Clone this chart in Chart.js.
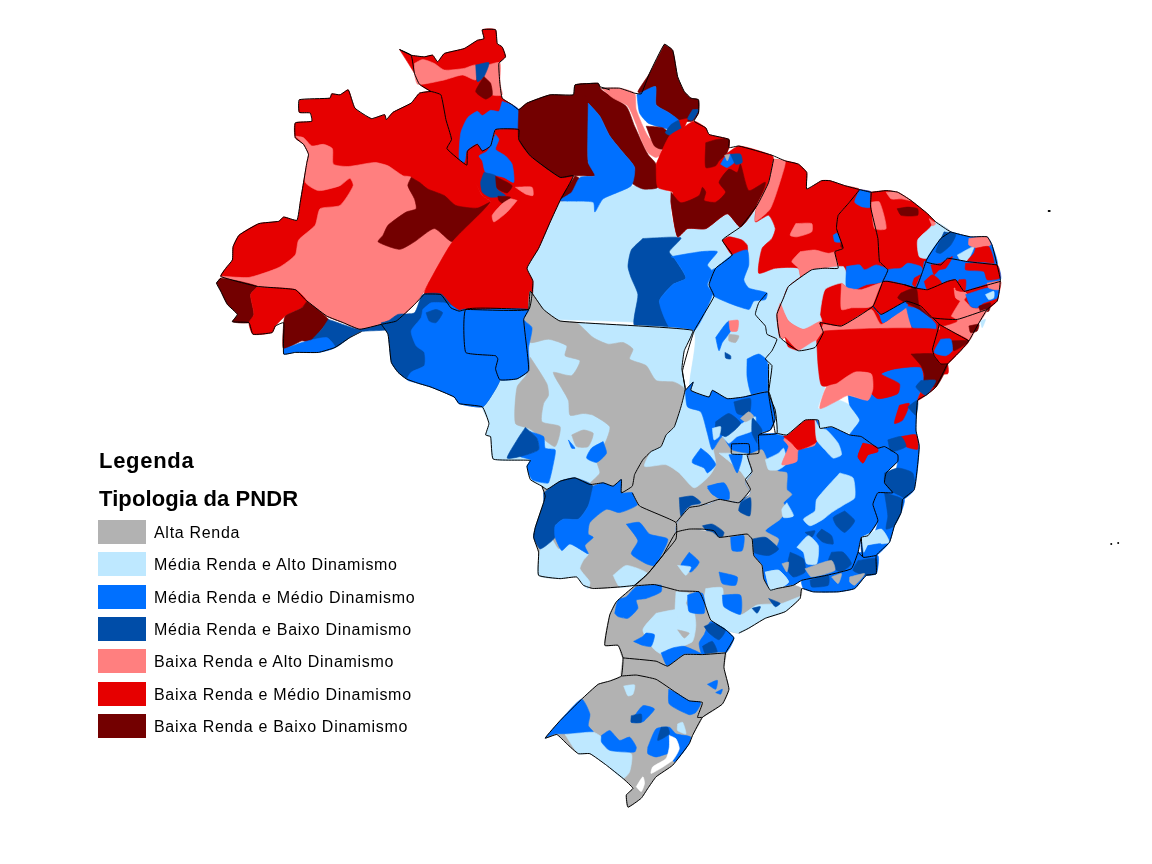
<!DOCTYPE html>
<html lang="pt">
<head>
<meta charset="utf-8">
<title>Tipologia da PNDR</title>
<script src="https://cdn.jsdelivr.net/npm/chart.js@4"></script>
<style>
html,body{margin:0;padding:0;background:#fff;}
#wrap{position:relative;width:1152px;height:864px;overflow:hidden;font-family:"Liberation Sans",Arial,sans-serif;color:#000;}
canvas{position:absolute;left:0;top:0;}
.t{position:absolute;left:99px;font-weight:bold;font-size:22px;line-height:24px;white-space:nowrap;}
.s{position:absolute;left:98px;width:48px;height:24px;}
.l{position:absolute;left:154px;font-size:16px;line-height:24px;letter-spacing:.7px;white-space:nowrap;}
</style>
</head>
<body>
<div id="wrap"><canvas id="c" width="1152" height="864"></canvas></div>
<script>
const categories = ["Alta Renda","Média Renda e Alto Dinamismo","Média Renda e Médio Dinamismo","Média Renda e Baixo Dinamismo","Baixa Renda e Alto Dinamismo","Baixa Renda e Médio Dinamismo","Baixa Renda e Baixo Dinamismo"];
const colors = ["#B2B2B2","#BEE8FF","#0070FF","#004DA8","#FF7F7F","#E60000","#730000"];
const legendTitles = ["Legenda","Tipologia da PNDR"];
const [GRAY,LIGHT,BLUE,NAVY,PINK,RED,DARK] = [0,1,2,3,4,5,6];
const WHITE = -1;
// map traced in frames: origin of each traced crop, 3 units per picture pixel
const FA=[210,20], FB=[560,30], FC=[380,290], FD=[670,330], FE=[530,560];

const northWest = [FA,[
 [RED,[262,230,355,225,360,212,385,215,410,200,430,255,480,287,520,275,525,290,545,268,600,240,625,210,660,205,690,215,705,290,722,350,708,378,768,428,815,520,840,540,725,660,650,790,635,815,610,850,555,900,510,910,445,925,395,905,345,885,280,835,250,805,135,795,25,765,40,740,60,715,62,675,80,640,140,605,200,598,215,585,255,595,265,540,285,420,290,395,275,365,250,345,250,300,300,295,295,270,262,268]],
 [PINK,[250,340,275,345,300,370,335,365,362,378,365,425,410,432,490,420,530,430,575,460,600,465,620,560,725,660,650,790,635,815,610,850,555,900,510,910,445,925,395,905,345,885,280,835,250,805,135,795,25,765,110,768,200,738,250,700,260,655,310,610,325,560,385,550,425,490,415,468,385,490,320,505,280,480,285,420,290,395,275,365]],
 [DARK,[600,465,590,490,610,530,615,560,585,570,530,610,515,640,500,660,565,683,610,660,670,620,725,660,790,600,840,540,800,558,735,550,700,520,650,500,625,480]],
 [DARK,[12,785,25,770,135,795,115,820,125,880,110,905,60,902,75,880,45,850,25,810]],
 [RED,[135,797,250,805,285,840,270,860,220,885,190,915,180,935,122,940,110,905,125,880,115,820]],
 [DARK,[285,840,350,895,330,925,295,965,270,960,215,985,215,905,220,885,270,860]],
 [NAVY,[350,895,445,925,510,910,530,900,535,925,450,932,415,950,370,980,345,955,295,965,330,925]],
 [BLUE,[215,985,270,965,345,950,370,980,320,995,250,995,215,1000]],
]];
const roraima = [FA,[
 [RED,[565,78,600,95,640,100,665,95,680,115,700,90,760,75,800,50,820,45,815,18,855,18,860,60,875,70,885,100,865,120,868,180,875,225,905,245,925,260,925,320,855,320,840,370,815,385,800,365,770,385,768,428,708,378,722,350,705,290,690,215,660,205,625,183,610,150]],
 [PINK,[610,120,635,108,670,120,700,140,760,135,795,125,795,170,755,155,700,170,620,183,610,150]],
 [PINK,[830,125,868,118,868,180,875,215,845,215,840,180,820,160]],
 [NAVY,[795,125,835,118,820,160,800,175]],
 [DARK,[820,160,840,180,845,215,825,228,795,205]],
 [BLUE,[875,235,905,245,925,260,925,320,855,320,840,370,815,385,800,365,770,385,760,420,745,410,750,330,770,285,800,265,815,278,840,262,865,265]],
]];
const paraWest = [FA,[
 [RED,[855,320,925,320,925,350,960,400,1050,465,1090,460,1050,535,1020,600,985,680,950,740,968,780,955,865,765,865,745,870,720,860,690,820,640,818,650,790,725,660,840,540,815,520,768,430,770,385,800,365,815,385,840,370]],
 [BLUE,[855,335,865,350,855,380,885,400,905,425,910,480,880,465,825,450,815,415,805,400,830,385]],
 [NAVY,[820,450,855,460,860,500,885,520,840,525,815,510,810,480]],
 [DARK,[855,462,905,490,890,512,860,498]],
 [DARK,[862,522,900,525,880,545,865,535]],
 [PINK,[915,495,965,495,968,520,945,515]],
 [PINK,[920,535,890,570,850,600,845,580,875,545,900,530]],
 [DARK,[925,260,950,240,1020,215,1090,215,1095,185,1135,185,1135,420,1160,440,1160,460,1095,460,1050,465,960,400,925,350]],
 [DARK,[1095,460,1050,535,1090,525,1110,470]],
]];
const centralLight = [FB,[
 [LIGHT,[0,505,100,510,105,540,130,500,210,462,300,465,340,490,335,545,358,615,385,590,440,590,505,545,545,585,600,525,590,570,630,550,650,590,640,620,610,650,600,725,650,710,720,710,735,745,690,765,675,800,655,850,665,920,720,960,700,1000,640,1010,630,1100,395,1100,400,898,-90,860,-95,835,-82,750,-100,710,-65,650,-30,570]],
 [NAVY,[250,620,365,618,330,660,345,680,380,740,340,760,300,810,335,895,225,885,235,790,215,740,205,705,215,655]],
 [BLUE,[335,675,425,660,475,660,445,700,460,720,445,760,460,790,405,900,335,895,300,810,340,760,380,740,345,680]],
 [RED,[490,625,510,615,550,625,565,640,565,660,520,670]],
 [BLUE,[470,710,520,670,565,655,570,700,555,745,570,770,625,785,620,805,585,810,570,835,465,795,450,760,460,715]],
 [BLUE,[470,920,495,885,510,870,515,900,490,935,480,960]],
 [PINK,[510,870,538,868,535,900,515,900]],
 [GRAY,[510,910,540,915,530,935,510,930]],
 [NAVY,[498,965,515,975,515,985,500,982]],
 [BLUE,[565,985,600,970,625,990,630,1090,580,1095,565,1040]],
]];
const paraCenter = [FB,[
 [DARK,[50,155,115,150,125,170,200,220,225,280,265,365,290,395,295,465,250,470,215,450,225,405,190,360,150,310,120,250,85,210,80,190,45,190]],
 [PINK,[125,165,180,165,225,180,230,230,265,310,310,360,290,375,265,360,245,320,230,275,205,220,160,195]],
 [BLUE,[85,210,120,250,150,310,190,360,225,405,215,460,130,500,105,540,100,510,0,505,35,480,60,435,105,430,85,390]],
 [DARK,[315,32,340,50,355,130,375,175,395,195,418,200,418,240,400,265,360,262,330,240,290,215,288,160,245,182,235,175,270,120]],
 [BLUE,[232,185,288,160,290,215,330,240,360,265,335,290,310,285,265,270,240,240]],
 [DARK,[260,280,310,285,335,310,310,350,285,340]],
 [NAVY,[335,275,360,262,370,290,340,310,318,300]],
 [RED,[360,262,385,258,370,290]],
 [NAVY,[400,230,418,230,400,262,385,258]],
 [RED,[290,395,330,310,370,285,405,265,440,285,450,305,510,320,510,345,500,365,540,340,640,368,645,380,630,450,595,520,545,585,505,545,440,590,385,590,355,615,335,510,340,480,295,465]],
 [DARK,[440,330,475,320,510,320,505,360,480,385,470,400,440,405]],
 [DARK,[335,480,365,512,420,490,430,465,440,480,435,505,470,510,500,480,480,450,510,410,535,420,545,395,570,475,620,450,595,520,545,585,505,545,440,590,385,590,355,615,335,510]],
 [BLUE,[485,395,500,370,515,365,530,385,505,405]],
 [NAVY,[515,365,545,365,550,390,530,395]],
 [GRAY,[497,368,512,365,505,385]],
]];
const maranhao = [FB,[
 [RED,[645,380,680,385,720,395,745,420,745,470,790,445,815,445,860,460,905,472,870,515,840,550,835,590,855,650,830,660,840,710,800,710,760,715,730,745,720,710,650,710,600,725,610,650,640,620,650,590,630,550,590,570,595,520,630,450]],
 [PINK,[645,380,680,385,670,430,635,530,590,568,595,520,630,450]],
 [PINK,[712,575,760,575,760,600,715,615,695,610]],
 [PINK,[725,660,770,655,810,665,840,660,843,708,800,710,760,715,730,745,720,710,700,690]],
 [BLUE,[825,610,845,600,848,630,830,630]],
 [PINK,[855,600,875,600,870,625,850,630]],
 [DARK,[850,630,865,635,860,650,848,645]],
]];
const piaui = [FB,[
 [RED,[905,472,940,480,938,525,960,620,965,690,990,715,978,750,945,825,850,885,785,875,795,905,770,950,720,960,680,920,665,925,655,850,675,800,690,765,760,715,800,710,843,708,830,660,855,650,835,590,840,550,870,515]],
 [LIGHT,[690,765,760,715,800,710,855,705,865,725,870,770,850,755,800,775,785,850,790,870,735,895,690,870,665,815,675,800]],
 [PINK,[665,815,690,870,735,895,790,870,795,905,770,950,720,960,680,920,665,925,655,850]],
 [BLUE,[905,472,940,480,938,525,915,525,890,510]],
 [BLUE,[865,705,905,700,920,715,955,700,990,715,978,750,925,760,890,775,865,770]],
 [PINK,[850,755,870,770,910,775,975,755,945,825,880,830,850,835]],
]];
const ceara = [FB,[
 [RED,[938,480,985,475,1020,480,1060,505,1110,545,1135,570,1180,600,1150,620,1105,690,1100,700,1095,720,1075,770,1040,760,990,750,975,750,990,715,965,690,960,620,938,525]],
 [PINK,[940,510,965,510,985,590,950,590]],
 [PINK,[985,480,1015,478,1060,505,1030,500,1000,500]],
 [DARK,[1018,530,1050,525,1080,530,1080,550,1030,550]],
 [LIGHT,[1115,590,1135,570,1180,600,1150,620,1110,680,1085,675,1080,625]],
 [PINK,[1115,560,1135,575,1125,582]],
 [BLUE,[975,750,990,715,1030,710,1050,695,1090,705,1095,720,1090,750,1075,770,1040,760,1000,755]],
 [RED,[1070,740,1090,730,1105,745,1090,775,1065,760]],
]];
const potiguar = [FB,[
 [BLUE,[1180,600,1240,615,1290,615,1305,640,1320,700,1230,690,1170,680,1150,700,1105,690,1150,620]],
 [NAVY,[1160,600,1195,608,1180,640,1150,665,1135,660]],
 [LIGHT,[1200,670,1250,645,1220,705]],
 [PINK,[1235,620,1290,615,1300,640,1265,650,1235,640]],
 [RED,[1255,650,1295,645,1310,700,1230,690,1250,665]],
 [BLUE,[1100,690,1150,700,1170,680,1230,690,1320,700,1330,745,1240,775,1220,780,1195,745,1170,750,1110,775,1075,770,1095,720]],
 [RED,[1120,700,1150,695,1185,675,1165,710,1145,715,1130,730]],
 [RED,[1225,695,1320,700,1328,740,1290,745,1280,720,1225,715]],
 [RED,[1100,750,1125,730,1150,750,1155,770,1110,775]],
]];
const pernambuco = [FB,[
 [RED,[945,825,978,750,1040,760,1075,770,1110,775,1170,750,1195,745,1220,780,1240,775,1330,750,1325,790,1320,810,1290,835,1200,865,1125,860,1090,825,1045,810,970,850]],
 [DARK,[1030,785,1075,770,1085,825,1120,860,1085,835,1045,815,1020,800]],
 [PINK,[1190,770,1220,780,1230,790,1215,810,1195,800]],
 [PINK,[1215,800,1245,830,1290,835,1200,865,1180,860]],
 [BLUE,[1225,790,1290,770,1325,770,1320,800,1280,815,1260,830,1240,825]],
 [LIGHT,[1285,790,1310,780,1310,800,1295,805]],
 [DARK,[1265,825,1300,815,1295,840,1270,840]],
 [RED,[1205,745,1225,745,1222,780,1195,775]],
 [PINK,[1290,755,1330,750,1325,775,1295,770]],
 [BLUE,[945,825,970,850,1045,810,1030,835,1000,860,975,875,965,850]],
]];
const bahiaNorth = [FB,[
 [RED,[680,920,720,960,770,950,795,905,785,875,850,885,945,825,970,850,1045,810,1090,825,1125,860,1145,880,1125,955,1130,975,1150,1000,1170,1000,1170,1030,700,1030,690,960]],
 [PINK,[795,880,850,885,940,835,970,880,1045,825,1050,830,1060,915,990,920,960,935,930,925,890,925,855,940,820,925,790,920,775,935]],
 [BLUE,[1045,825,1090,835,1135,880,1130,910,1065,890]],
 [BLUE,[945,825,970,850,1045,810,1050,825,1000,860,975,875,965,850]],
]];
const alagoasSergipe = [FB,[
 [PINK,[1125,860,1200,865,1290,835,1260,885,1235,930,1190,905,1145,880]],
 [RED,[1125,860,1165,850,1200,870,1150,885]],
 [DARK,[1235,885,1265,880,1260,900,1240,905]],
 [LIGHT,[1270,870,1285,865,1275,890]],
 [RED,[1145,880,1190,905,1235,930,1210,960,1170,1000,1150,1000,1130,975,1125,955,1150,925]],
 [DARK,[1180,930,1235,930,1190,960]],
 [BLUE,[1150,925,1180,925,1185,960,1165,975,1130,965]],
]];
const matoGrosso = [FC,[
 [LIGHT,[445,55,450,0,490,55,540,90,940,118,915,180,908,235,918,295,905,350,885,410,860,435,845,470,815,485,790,510,765,555,758,590,725,610,725,570,700,590,670,580,630,585,585,565,540,575,500,600,485,590,450,570,440,530,450,512,338,508,330,440,315,435,325,400,305,350,330,320,358,268,410,265,445,240]],
 [GRAY,[445,60,450,0,490,55,540,90,590,95,640,140,685,160,730,155,760,175,750,205,800,225,830,270,885,275,915,295,905,350,885,410,860,435,845,470,815,485,790,510,765,555,758,610,725,610,630,585,660,550,650,510,680,450,690,410,640,375,610,370,570,375,565,330,525,260,520,245,575,255,600,210,555,195,560,165,505,145,450,155,455,110,430,85]],
 [GRAY,[450,200,500,280,505,315,490,340,485,395,540,410,525,470,480,440,445,415,405,400,410,290,440,250]],
 [GRAY,[575,435,610,420,640,430,625,470,590,470]],
 [BLUE,[450,425,490,440,495,475,525,480,520,520,505,580,490,580,455,570,440,530,450,510,420,500,475,480,470,445]],
 [NAVY,[435,412,470,445,475,480,420,500,380,505,410,450]],
 [BLUE,[670,455,680,490,650,518,620,505,635,475]],
 [BLUE,[565,450,585,475,575,475]],
]];
const rondonia = [FC,[
 [NAVY,[0,95,20,90,50,70,100,65,125,10,180,8,215,45,235,58,255,55,255,185,345,195,352,205,345,235,358,268,330,320,305,350,235,340,220,320,150,290,110,278,75,265,50,245,30,215,20,130,0,100]],
 [BLUE,[125,55,120,80,90,120,105,165,130,185,130,225,90,245,78,268,110,278,150,290,220,320,235,340,305,350,330,320,358,268,345,235,352,205,345,195,255,185,255,55,235,58,215,45,190,35,150,35]],
 [NAVY,[135,65,165,55,185,65,165,95,145,90]],
 [BLUE,[255,55,445,55,430,85,455,110,445,170,445,240,410,265,358,268,345,235,352,205,345,195,255,185]],
]];
const matoGrossoSul = [FC,[
 [GRAY,[485,590,500,600,540,575,585,565,630,585,670,580,700,590,725,570,725,610,760,610,780,650,890,700,890,750,850,800,805,855,765,890,640,900,610,890,590,865,540,870,475,860,475,790,460,745,465,715,490,640,495,620]],
 [LIGHT,[480,780,510,745,535,780,570,765,625,795,610,815,600,840,630,880,625,900,610,890,590,865,540,870,475,860]],
 [NAVY,[490,610,540,575,585,565,640,590,625,650,595,690,550,690,525,710,525,745,480,780,460,745,465,715,490,640]],
 [BLUE,[640,590,670,580,700,590,725,570,725,610,760,610,775,645,720,670,680,660,630,700,625,735,640,745,615,770,625,795,570,765,545,785,525,745,525,710,550,690,595,690,625,650]],
 [BLUE,[740,705,780,700,810,735,865,750,850,790,825,830,800,825,755,795,775,755]],
 [LIGHT,[700,860,740,830,805,855,770,890,720,895]],
 [NAVY,[830,830,855,825,840,860,810,870]],
]];
const goias = [FC,[
 [GRAY,[918,300,942,275,935,300,990,320,1000,300,1045,325,1095,320,1170,305,1190,385,1175,420,1140,435,1140,490,1105,495,1120,545,1100,570,1115,600,1080,640,1020,630,960,650,930,655,890,700,780,650,760,610,758,590,765,555,790,510,815,485,845,470,860,435,885,410,905,350]],
 [LIGHT,[918,300,990,340,985,430,1000,470,1010,525,990,560,945,595,900,550,860,525,795,530,815,485,845,470,860,435,885,410,905,350]],
 [LIGHT,[1020,490,1060,490,1130,490,1105,495,1120,545,1105,570,1085,545,1045,510]],
 [BLUE,[918,300,942,275,935,300,990,320,1000,300,1045,325,1095,320,1170,305,1190,385,1175,420,1140,430,1140,490,1060,480,1030,440,1000,480,985,430,965,365,925,350]],
 [LIGHT,[1030,440,1060,420,1090,400,1130,380,1125,420,1075,440,1050,460]],
 [NAVY,[1010,395,1050,370,1085,400,1040,440,1010,420]],
 [NAVY,[1065,335,1115,325,1110,375,1075,370]],
 [NAVY,[1120,380,1150,420,1140,465,1120,430]],
 [GRAY,[1085,385,1110,365,1125,380,1100,395]],
 [LIGHT,[1000,415,1025,410,1020,440,1005,450]],
 [BLUE,[965,475,990,495,1010,525,985,550,975,535,940,520,940,510]],
 [BLUE,[985,590,1035,580,1050,605,1050,630,1015,625]],
 [NAVY,[900,625,940,620,965,640,925,655,905,680]],
 [NAVY,[1080,640,1110,620,1115,680,1090,670]],
 [BLUE,[1050,495,1090,495,1075,550,1060,520]],
]];
const minasGerais = [FD,[
 [BLUE,[325,310,355,315,410,270,450,270,455,295,490,290,545,315,580,320,630,355,650,350,690,375,690,395,655,430,650,460,675,490,630,490,615,525,630,575,600,620,580,625,570,670,550,720,475,740,400,755,375,770,325,780,305,785,285,750,280,710,255,680,250,630,235,615,150,625,135,605,100,600,20,610,25,580,65,530,120,525,150,510,215,520,245,490,230,460,250,430,240,395,240,375,265,370,270,315]],
 [GRAY,[240,375,280,360,300,400,330,425,355,430,355,480,370,495,345,520,355,540,335,570,290,605,330,630,320,655,295,625,250,630,235,615,150,625,135,605,100,600,20,610,25,580,65,530,120,525,150,510,215,520,245,490,230,460,250,430,240,395]],
 [LIGHT,[355,520,375,560,345,565,340,540]],
 [LIGHT,[290,390,330,370,345,355,355,400,330,420,300,420]],
 [NAVY,[100,590,130,585,165,610,150,640,145,625,125,620]],
 [NAVY,[215,520,245,505,243,560,210,545]],
 [PINK,[345,330,355,315,410,270,440,275,440,345,390,360,385,395,340,405,360,350]],
 [RED,[345,320,400,275,440,265,445,335,390,360,370,340]],
 [LIGHT,[440,270,455,295,475,300,510,340,520,375,495,385,470,360,445,330]],
 [LIGHT,[515,430,555,445,560,505,530,525,490,550,465,570,425,590,405,570,440,545,445,510]],
 [RED,[585,340,625,350,630,365,600,375,585,400,570,380]],
 [NAVY,[530,545,560,575,530,610,505,590,495,565]],
 [NAVY,[460,600,490,620,495,645,465,640,445,620]],
 [NAVY,[410,610,440,605,430,625]],
 [LIGHT,[385,655,420,620,450,650,445,705,415,705,405,670]],
 [NAVY,[365,670,405,690,410,730,375,745,355,720]],
 [NAVY,[490,670,525,670,550,705,515,730,480,700]],
 [GRAY,[410,720,490,695,500,725,430,745]],
 [NAVY,[250,630,290,625,330,660,300,680,255,670]],
 [LIGHT,[290,730,330,725,360,760,325,785,305,785]],
 [GRAY,[340,705,360,700,355,730]],
 [BLUE,[115,475,150,462,180,490,170,512,130,495]],
]];
const bahiaSouth = [FD,[
 [LIGHT,[300,90,335,20,360,50,390,60,445,30,450,110,470,170,450,235,510,210,545,225,575,270,550,310,490,290,455,295,450,270,410,270,355,315,325,310,320,240,300,190]],
 [BLUE,[540,195,600,210,605,190,640,130,680,115,760,110,770,150,750,210,745,300,755,350,740,480,705,510,675,490,690,395,690,375,650,350,630,355,580,320,545,315,555,300,575,270,545,225]],
 [RED,[445,30,470,0,840,0,840,100,805,170,775,195,750,210,770,155,760,110,680,115,640,130,695,160,690,190,630,205,600,175,610,140,560,125,500,165,460,165,450,110]],
 [PINK,[505,160,560,125,610,130,615,175,600,210,540,195,510,210,455,235,475,170]],
 [DARK,[730,70,800,70,840,100,805,170,770,155,770,130,760,105]],
 [NAVY,[760,150,805,150,775,195,745,170]],
 [RED,[695,225,725,220,705,270,680,280]],
 [RED,[700,320,745,315,750,358,715,350]],
 [NAVY,[660,330,700,320,715,350,670,365]],
 [NAVY,[720,230,750,210,745,255]],
 [RED,[585,340,625,350,630,365,600,375,585,400,570,380]],
 [NAVY,[650,430,690,415,735,430,740,475,705,510,675,490,650,460]],
]];
const sudesteCoast = [FD,[
 [BLUE,[675,490,710,510,700,550,680,590,665,640,625,680,585,685,580,625,615,620,630,575,615,525,630,490]],
 [NAVY,[650,490,705,510,700,550,680,590,655,600,660,560]],
 [LIGHT,[580,625,640,600,665,640,640,645,600,650,590,680]],
 [BLUE,[600,650,640,645,625,680,585,685]],
 [BLUE,[570,670,630,680,625,735,595,740,560,780,510,790,435,790,405,780,400,755,475,740,550,720]],
 [NAVY,[570,695,625,690,625,735,590,740,555,725]],
 [GRAY,[545,745,590,735,560,770,545,760]],
 [NAVY,[425,755,480,740,480,770,430,775]],
 [GRAY,[490,745,520,735,510,765]],
]];
const saoPaulo = [FD,[
 [GRAY,[-105,770,-65,735,-20,680,20,610,60,600,130,610,150,625,235,615,250,630,255,680,280,710,285,750,305,785,325,780,375,770,400,780,395,810,350,850,290,870,240,900,210,915,170,905,125,875,105,820,90,790,30,787,-45,768]],
 [LIGHT,[110,780,160,778,165,830,215,860,265,830,340,825,395,805,350,850,290,870,240,900,210,915,170,905,125,875,105,820]],
 [BLUE,[55,800,100,795,108,855,65,850]],
 [BLUE,[150,730,205,745,200,770,160,765]],
 [BLUE,[160,800,215,800,215,858,165,835]],
 [BLUE,[185,625,225,620,220,665,190,665]],
 [BLUE,[60,670,90,700,65,730,35,710]],
 [LIGHT,[25,710,65,715,50,740]],
 [NAVY,[300,810,335,825,320,835]],
 [NAVY,[250,840,275,835,265,855]],
 [LIGHT,[290,730,330,725,360,760,325,780,305,785]],
]];
const south = [FE,[
 [GRAY,[315,82,375,78,450,97,510,100,525,130,545,185,590,215,615,240,590,285,520,290,465,290,415,325,380,310,280,300,265,262,225,262,240,170,260,130]],
 [LIGHT,[380,165,430,155,490,150,500,200,490,250,445,270,400,290,370,270,340,215]],
 [LIGHT,[440,100,480,105,470,135,490,165,440,175]],
 [BLUE,[255,165,265,125,290,115,320,85,395,80,395,100,350,120,320,125,325,150,295,180,265,175]],
 [BLUE,[475,110,510,100,525,130,525,165,480,160]],
 [BLUE,[312,250,340,235,350,225,375,230,365,265,340,262]],
 [BLUE,[395,285,430,270,465,265,520,290,465,290,415,325]],
 [BLUE,[525,230,545,190,590,215,615,240,590,285,520,290,510,255]],
 [NAVY,[525,205,550,195,590,215,570,245,540,225]],
 [NAVY,[520,265,550,250,565,285,530,290]],
 [GRAY,[445,215,480,225,465,240]],
 [GRAY,[280,300,380,310,415,325,465,290,520,290,590,285,585,330,600,395,580,440,520,480,505,480,520,435,480,430,440,405,380,365,320,352,275,355]],
 [BLUE,[535,380,565,368,560,395]],
 [BLUE,[560,405,580,395,575,410]],
 [GRAY,[275,355,320,352,380,365,440,405,480,430,520,435,505,480,520,480,490,535,480,560,430,625,380,660,355,695,335,725,295,752,290,715,310,695,280,665,230,625,180,590,145,590,110,560,80,532,45,543,90,490,155,425,205,380,240,370]],
 [BLUE,[45,543,90,490,155,425,180,470,175,505,190,525,110,530,75,530]],
 [LIGHT,[105,532,190,525,215,540,230,575,305,590,300,645,280,665,230,625,180,590,145,590]],
 [BLUE,[215,535,240,520,270,550,300,540,320,570,315,585,240,580,215,555]],
 [BLUE,[305,490,340,445,375,455,345,490,335,495,305,495]],
 [NAVY,[305,475,335,470,335,495,305,495]],
 [LIGHT,[282,385,315,382,310,410,295,415]],
 [BLUE,[418,395,440,405,480,430,515,435,500,465,480,472,420,440]],
 [BLUE,[355,570,380,515,420,510,440,530,485,540,470,575,435,615,425,590,415,590,380,600,355,590]],
 [NAVY,[395,510,415,510,420,530,385,550]],
 [LIGHT,[445,500,460,495,470,530,445,520]],
 [WHITE,[420,535,440,545,450,575,430,610,365,650,370,630,410,605,420,570]],
 [WHITE,[320,690,340,660,345,680,335,705]],
]];
const paintOrder = [centralLight,northWest,roraima,paraWest,paraCenter,maranhao,piaui,ceara,potiguar,matoGrosso,rondonia,matoGrossoSul,goias,minasGerais,bahiaNorth,bahiaSouth,pernambuco,alagoasSergipe,sudesteCoast,saoPaulo,south];

// state borders (open and closed paths)
const borderPaths = [
 [FA,[640,818,610,850,555,900,510,910,445,925,395,905,345,885,280,835,250,805,135,795,25,765,40,740,60,715,62,675,80,640,140,605,200,598,215,585,255,595,265,540,285,420,290,395,275,365,250,345,250,300,300,295,295,270,262,268,262,230,355,225,360,212,385,215,410,200,430,255,480,287,520,275,525,290,545,268,600,240,625,210,660,205,690,215,705,290,722,350,708,378,768,428,770,385,800,365,815,385,840,370,855,320,925,320,925,350,960,400,1050,465,1090,460,1050,535,1020,600,985,680,950,740,968,780,955,865,765,865,745,870,720,860,690,820,640,818]],
 [FA,[25,770,12,785,25,810,45,850,75,880,60,902,110,905,122,940,180,935,190,915,215,905,215,1000,250,995,320,995,370,980,415,950,450,932]],
 [FA,[660,205,625,183,610,150,600,95,565,78,600,95,640,100,665,95,680,115,700,90,760,75,800,50,820,45,815,18,855,18,860,60,875,70,885,100,865,120,868,180,875,225,905,245,925,260,950,240,1020,215,1090,215,1095,185,1165,180,1170,190,1200,200]],
 [FB,[125,165,180,165,225,180,245,182,270,120,315,32,340,50,355,130,375,175,395,195,418,200,418,240,405,265,440,285,450,305,510,320,510,345,540,340,640,368,680,385,720,395,745,420,745,470,790,445,815,445,860,460,905,472,940,480,985,475,1020,480,1060,505,1110,545,1135,570,1180,600,1240,615,1290,615,1305,640,1320,700,1330,745,1325,790,1320,810,1290,835,1260,885,1235,930,1210,960,1170,1000]],
 [FB,[645,380,630,450,595,520,545,585,490,625,520,670,470,710,450,760,465,795,405,900,370,1020,378,1075]],
 [FB,[625,785,600,815,590,850,620,885,625,910,655,925,640,960,620,985,640,1005,630,1090,650,1210]],
 [FB,[905,472,870,515,840,550,835,590,855,650,830,660,840,710,800,710,760,715,690,765,675,800,655,850,665,920,720,960,770,950,795,905,785,875,850,885,945,825,975,750,990,715,965,690,960,620,938,525,940,480]],
 [FB,[1105,690,1095,720,1075,770,1040,760,990,750,975,750]],
 [FB,[1180,600,1150,620,1105,690,1150,700,1170,680,1230,690,1320,700]],
 [FB,[1330,750,1240,775,1220,780,1195,745,1170,750,1110,775,1075,770,1040,760]],
 [FB,[945,825,970,850,1045,810,1090,825,1125,860,1200,865,1290,835]],
 [FB,[1125,860,1145,880,1125,955,1130,975,1150,1000,1170,1000]],
 [FB,[1145,880,1190,905,1235,930]],
 [FC,[445,55,255,55,255,185,345,195,352,205,345,235,358,268,410,265,445,240,430,85,445,55,450,0,490,55,540,90,940,118,915,180,908,235,918,295,905,350,885,410,860,435,845,470,815,485,790,510,765,555,758,590,725,610,725,570,700,590,670,580,630,585,585,565,540,575,500,600,485,590,450,570,440,530,450,512,338,508,330,440,315,435,325,400,305,350,235,340,220,320,150,290,110,278,75,265,50,245,30,215,20,130,0,100]],
 [FC,[758,610,780,650,890,700,890,750,850,800,805,855,765,890,640,900,610,890,590,865,540,870,475,860,475,790,460,745,465,715,490,640,495,620,485,590]],
 [FC,[918,300,942,275,935,300,990,320,1000,300,1045,325,1095,320,1170,305,1190,385,1175,420,1140,435,1140,490,1105,495,1120,545,1100,570,1115,600,1080,640,1020,630,960,650,930,655,890,700]],
 [FC,[1058,462,1110,462,1112,492,1058,492,1058,462]],
 [FD,[325,310,355,315,410,270,450,270,455,295,490,290,545,315,580,320,630,355,650,350,690,375,690,395,655,430,650,460,675,490,630,490,615,525,630,575,600,620,580,625,570,670,550,720,475,740,400,755,375,770,325,780,305,785,285,750,280,710,255,680,250,630,235,615,150,625,135,605,100,600,60,600,20,610,-20,680,-65,735,-105,770]],
 [FD,[270,315,325,310,320,240,300,190,300,100]],
 [FD,[840,100,805,170,775,195,750,210,745,300,755,350,740,480,705,510,700,550,680,590,665,640,625,680,625,735,595,740,560,780,510,790,435,790,400,780,395,810,350,850,290,870,240,900,210,915]],
 [FD,[580,625,585,685,625,680]],
 [FD,[570,670,585,685]],
 [FE,[315,82,375,78,450,97,510,100,525,130,545,185,590,215,615,240,590,285,585,330,600,395,580,440,520,480,490,535,480,560,430,625,380,660,355,695,335,725,295,752,290,715,310,695,280,665,230,625,180,590,145,590,110,560,80,532,45,543,90,490,155,425,205,380,240,370,275,355,280,300,265,262,225,262,240,170,260,130,315,82]],
 [FE,[280,300,380,310,415,325,465,290,520,290,590,285]],
 [FE,[275,355,320,352,380,365,440,405,480,430,520,435,505,480,520,480]],
];
const islands = [[1052,209],[1115,545],[1122,544],[1053,209]];

function toPoints(frame, flat){
  const pts=[];
  for(let i=0;i<flat.length;i+=2) pts.push({x:frame[0]+flat[i]/3,y:frame[1]+flat[i+1]/3});
  return pts;
}
const datasets=[];
paintOrder.forEach(([frame,shapes])=>shapes.forEach(([cat,flat])=>{
  const c = cat===WHITE ? "#FFFFFF" : colors[cat];
  const pts = toPoints(frame,flat); pts.push(pts[0]);
  datasets.push({label:cat===WHITE?"":categories[cat],data:pts,showLine:true,fill:"shape",backgroundColor:c,borderColor:c,borderWidth:.6,pointRadius:0,tension:.2});
}));
borderPaths.forEach(([frame,flat])=>{
  datasets.push({label:"",data:toPoints(frame,flat),showLine:true,fill:false,borderColor:"#000",borderWidth:1,pointRadius:0,tension:.12});
});
datasets.push({label:"",data:islands.map(p=>({x:p[0],y:p[1]})),showLine:false,pointRadius:1,backgroundColor:"#000",borderWidth:0});
datasets.reverse(); // Chart.js paints the first dataset last

new Chart(document.getElementById("c"),{
  type:"scatter",
  data:{datasets},
  options:{
    responsive:false,animation:false,
    layout:{padding:0},
    plugins:{legend:{display:false},tooltip:{enabled:false},title:{display:false}},
    scales:{
      x:{type:"linear",min:0,max:1152,display:false},
      y:{type:"linear",min:0,max:864,reverse:true,display:false}
    }
  }
});

const wrap=document.getElementById("wrap");
function add(cls,txt,top,bg,ls){const d=document.createElement("div");d.className=cls;d.style.top=top+"px";if(txt)d.textContent=txt;if(bg)d.style.background=bg;if(ls)d.style.letterSpacing=ls;wrap.appendChild(d);}
add("t",legendTitles[0],449,null,".7px");
add("t",legendTitles[1],487,null,".1px");
categories.forEach((n,i)=>{const top=520+i*32.33;add("s","",top,colors[i]);add("l",n,top+1);});
</script>
</body>
</html>
